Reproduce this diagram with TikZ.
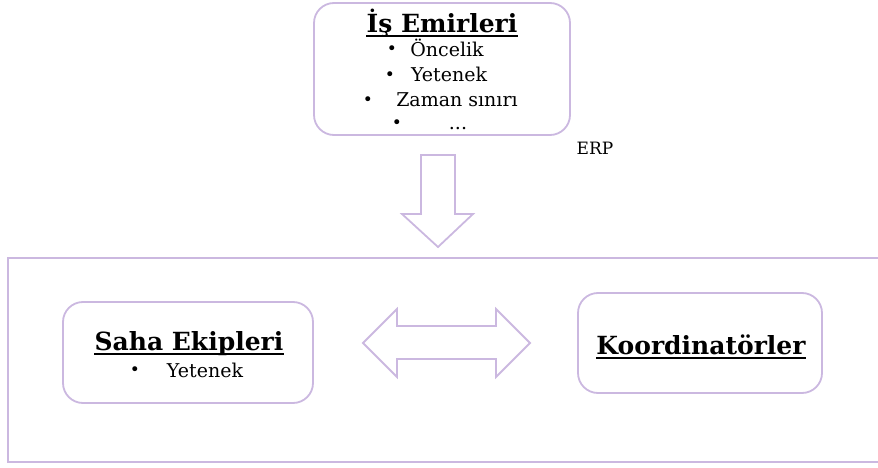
\documentclass[tikz,border=0pt]{standalone}
\usepackage{fontspec}
\setmainfont{DejaVu Serif}
\usepackage{xcolor}
\definecolor{lav}{RGB}{203,184,224}
\begin{document}
\begin{tikzpicture}[x=1pt,y=-1pt,
  box/.style={draw=lav, line width=1.8pt, rounded corners=20pt, fill=white},
  blk/.style={draw=lav, line width=1.8pt, line join=miter},
  title/.style={font=\fontsize{25}{28}\selectfont\bfseries, inner sep=0pt, anchor=base},
  item/.style={font=\fontsize{19}{22}\selectfont, inner sep=0pt, anchor=base},
  dot/.style={font=\fontsize{17}{17}\selectfont, inner sep=0pt},
  uline/.style={line width=1.1pt},
  lbl/.style={font=\fontsize{17}{19}\selectfont, inner sep=0pt, anchor=base}]
\useasboundingbox (0,0) rectangle (878,468);
% outer frame (right edge beyond the page)
\draw[blk] (880,258) -- (8,258) -- (8,462) -- (880,462);
% top box
\node[box, minimum width=256pt, minimum height=132pt] (emir) at (442,69) {};
\node[title] (emirT) at (442,33) {İş Emirleri};
\draw[uline] ([yshift=-3pt]emirT.base west) -- ([yshift=-3pt]emirT.base east);
\node[dot] (b1) at (392,50) {\textbullet};
\node[item] (i1) at (447,57) {Öncelik};
\node[dot] (b2) at (390,76) {\textbullet};
\node[item] (i2) at (449,82) {Yetenek};
\node[dot] (b3) at (368,101) {\textbullet};
\node[item] (i3) at (457,107) {Zaman sınırı};
\node[dot] (b4) at (397,124) {\textbullet};
\node[item] (i4) at (458,130) {...};
\node[lbl] (erp) at (595,154) {ERP};
% down block arrow
\draw[blk] (421,155) -- (455,155) -- (455,214) -- (473,214) -- (438,247) -- (402,214) -- (421,214) -- cycle;
% left box
\node[box, minimum width=250pt, minimum height=101pt] (saha) at (188,352.5) {};
\node[title] (sahaT) at (189,350) {Saha Ekipleri};
\draw[uline] ([yshift=-4pt]sahaT.base west) -- ([yshift=-4pt]sahaT.base east);
\node[dot] (s0) at (135,371) {\textbullet};
\node[item] (s1) at (205,377) {Yetenek};
% right box
\node[box, minimum width=244pt, minimum height=100pt] (koord) at (700,343) {};
\node[title] (koordT) at (701,354) {Koordinatörler};
\draw[uline] ([yshift=-4pt]koordT.base west) -- ([yshift=-4pt]koordT.base east);
% double block arrow
\draw[blk] (363,343) -- (397,309) -- (397,326) -- (496,326) -- (496,309) -- (530,343) -- (496,377) -- (496,359) -- (397,359) -- (397,377) -- cycle;
\end{tikzpicture}
\end{document}
